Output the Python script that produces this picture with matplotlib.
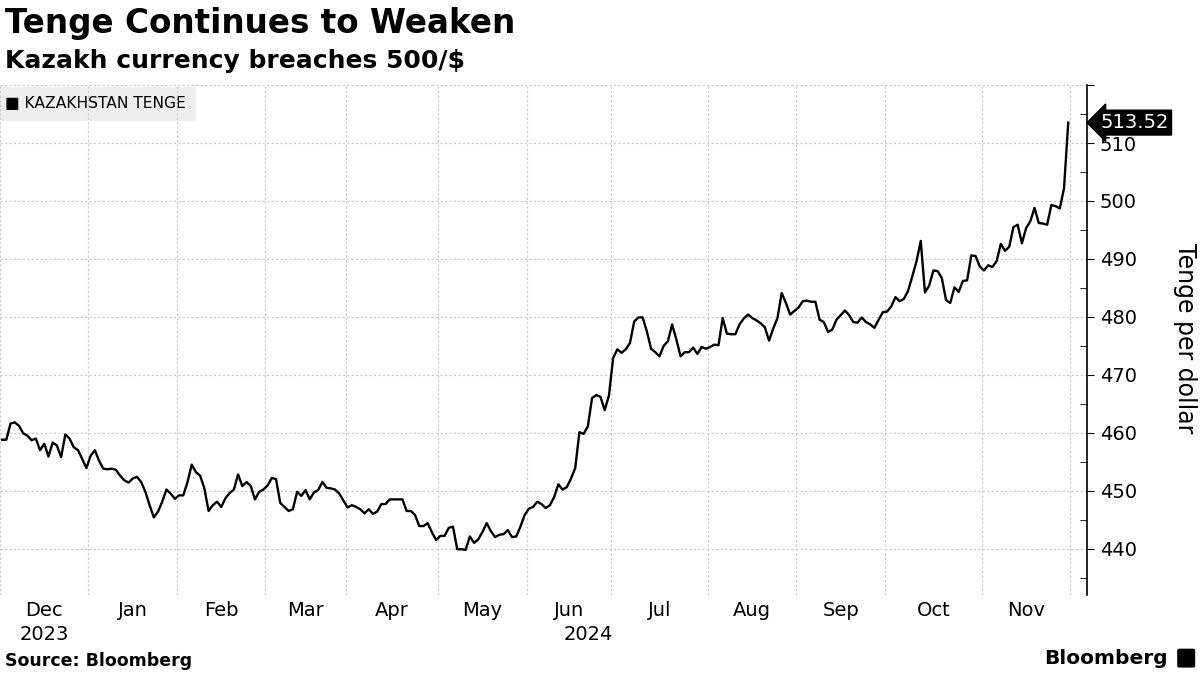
import numpy as np
import pandas as pd
import matplotlib
matplotlib.use("Agg")
import matplotlib.pyplot as plt
import matplotlib.transforms as mtransforms
from matplotlib.patches import FancyBboxPatch

# USD/KZT daily fixings (Dec 2023 - Nov 2024)
tenge = [
    458.8, 458.8, 461.6, 461.8, 461.2, 459.9, 459.5, 458.7, 459.0, 457.0,
    458.1, 455.9, 458.3, 457.8, 455.8, 459.7, 459.0, 457.5, 457.0, 455.5,
    453.9, 456.0, 457.0, 455.2, 453.8, 453.7, 453.8, 453.6, 452.6, 451.8,
    451.4, 452.1, 452.4, 451.5, 449.8, 447.5, 445.4, 446.4, 448.1, 450.2,
    449.5, 448.6, 449.2, 449.2, 451.5, 454.5, 453.2, 452.6, 450.4, 446.5,
    447.5, 448.1, 447.2,
    448.7, 449.6, 450.2, 452.8, 450.8, 451.5, 450.8, 448.5, 449.8, 450.2,
    450.9, 452.2, 452.0, 447.9, 447.2, 446.5, 446.8, 449.8, 449.1, 450.1,
    448.5, 449.7, 450.1, 451.5, 450.5, 450.4, 450.2, 449.5, 448.3, 447.1,
    447.5, 447.2, 446.8, 446.1, 446.8, 446.0, 446.4, 447.7, 447.7, 448.5,
    448.5, 448.5, 448.5, 446.5, 446.5, 445.8, 443.9, 443.9, 444.4, 442.8,
    441.5, 442.2,
    442.2, 443.6, 443.8, 439.9, 439.9, 439.8, 442.1, 441.0, 441.6, 442.9,
    444.4, 443.0, 442.0, 442.4, 442.5, 443.2, 442.0, 442.1, 443.8, 445.8,
    446.9, 447.2, 448.1, 447.7, 447.0, 447.5, 448.9, 451.1, 450.2, 450.6,
    452.1, 453.9, 460.1, 459.8, 461.1, 466.0, 466.5, 466.2, 463.9, 466.4,
    472.9, 474.4, 473.8, 474.4, 475.5, 479.2, 479.9, 479.9, 477.5, 474.5,
    473.9, 473.2, 475.0, 475.8, 478.7, 476.1, 473.2, 473.9, 473.9, 474.7,
    473.6, 474.8, 474.5, 474.8, 475.2, 475.1, 479.8, 477.1, 477.0, 477.0,
    478.7, 479.7, 480.4, 479.8, 479.4, 478.9, 478.2, 475.9, 478.0, 479.8,
    484.1, 482.4, 480.4, 481.0, 481.6, 482.7, 482.8, 482.6, 482.6, 479.5,
    479.1, 477.4, 477.8, 479.5, 480.3, 481.1, 480.3, 479.1, 479.0, 479.9,
    479.1, 478.7, 478.1, 479.5, 480.8, 480.9, 481.8, 483.4, 482.7, 483.1,
    484.5, 487.0, 489.6, 493.1, 484.2, 485.4, 488.0, 487.9, 486.7, 482.9,
    482.4, 485.1, 484.3, 486.2, 486.3, 490.6, 490.5, 488.7, 488.0, 488.9,
    488.6, 489.6, 492.6, 491.4, 492.1, 495.5, 495.9, 492.7, 495.3, 496.5,
    498.8, 496.2, 496.1, 495.9, 499.3, 499.1, 498.7, 502.2, 513.52,
]
start_date = "2023-12-01"
holidays = ["2024-01-01", "2024-01-02", "2024-03-08", "2024-03-22",
            "2024-05-01", "2024-05-09", "2024-08-30"]
series_name = "KAZAKHSTAN TENGE"
y_ticks = [440, 450, 460, 470, 480, 490, 500, 510]

# trading day axis (bloomberg style, no gaps for weekends)
days = pd.bdate_range(start_date, periods=len(tenge) + 6, freq="C", holidays=holidays)
x = np.arange(len(tenge))

fig = plt.figure(figsize=(12, 6.75), dpi=100)
ax = fig.add_axes([0.0, 0.1185, 0.906, 0.7555])

ax.plot(x, tenge, color="black", lw=1.7, zorder=3)
ax.set_xlim(-0.5, len(tenge) + 3.5)
ax.set_ylim(432, 520)

# month boundaries -> vertical grid, labels in the middle of each month
starts = [0] + [i for i in range(1, len(days)) if days[i].month != days[i - 1].month]
edges = [s - 0.5 for s in starts]
mids = [(a + b) / 2 for a, b in zip(edges[:-1], edges[1:])]
ax.set_xticks(edges)
ax.set_xticklabels([])
ax.set_xticks(mids, minor=True)
ax.set_xticklabels([days[s].strftime("%b") for s in starts[:-1]], minor=True)
ax.tick_params(axis="x", which="both", length=0, labelsize=14, pad=4)

# year labels centred on each year's span
trans = mtransforms.blended_transform_factory(ax.transData, ax.transAxes)
ax.text((edges[0] + edges[1]) / 2, -0.077, "2023", transform=trans,
        ha="center", va="center", fontsize=14)
ax.text((edges[1] + ax.get_xlim()[1]) / 2, -0.077, "2024", transform=trans,
        ha="center", va="center", fontsize=14)

ax.yaxis.tick_right()
ax.set_yticks(y_ticks + [520])
ax.set_yticklabels([str(v) for v in y_ticks] + [""])
ax.set_yticks(np.arange(435, 520, 10), minor=True)
ax.tick_params(axis="y", which="major", direction="out", length=5, labelsize=14, pad=4)
ax.tick_params(axis="y", which="minor", direction="in", length=5)

ax.grid(True, which="major", color="#c8c8c8", ls=(0, (2, 2)), lw=0.8)
for s in ["left", "top", "bottom"]:
    ax.spines[s].set_visible(False)
ax.spines["right"].set_linewidth(1.2)

# last value badge
btrans = mtransforms.blended_transform_factory(ax.transAxes, ax.transData)
ax.text(1.012, tenge[-1], f"{tenge[-1]:.2f}", transform=btrans, color="white",
        fontsize=14, va="center", ha="left",
        bbox=dict(boxstyle="larrow,pad=0.15", fc="black", ec="black"))

# legend box
ax.text(0.005, 0.963, "\u25a0 " + series_name, transform=ax.transAxes, fontsize=11.2,
        va="center", ha="left", zorder=1,
        bbox=dict(boxstyle="square,pad=0.6", fc="#ececec", ec="none", alpha=0.85))

fig.text(1185 / 1200, 1 - 338 / 675, "Tenge per dollar", rotation=270,
         ha="center", va="center", fontsize=17)

fig.text(0.004, 0.99, "Tenge Continues to Weaken", fontsize=23.5, fontweight="bold",
         va="top", ha="left")
fig.text(0.004, 0.928, "Kazakh currency breaches 500/$", fontsize=18, fontweight="bold",
         va="top", ha="left")
fig.text(0.004, 0.008, "Source: Bloomberg", fontsize=12.5, fontweight="bold",
         va="bottom", ha="left")
fig.text(0.973, 0.01, "Bloomberg", fontsize=14.5, fontweight="bold",
         va="bottom", ha="right")
fig.patches.append(FancyBboxPatch((0.983, 0.013), 0.011, 0.024, boxstyle="round,pad=0.002",
                                  transform=fig.transFigure, fc="black", ec="none"))

fig.savefig("out.png", dpi=100)
